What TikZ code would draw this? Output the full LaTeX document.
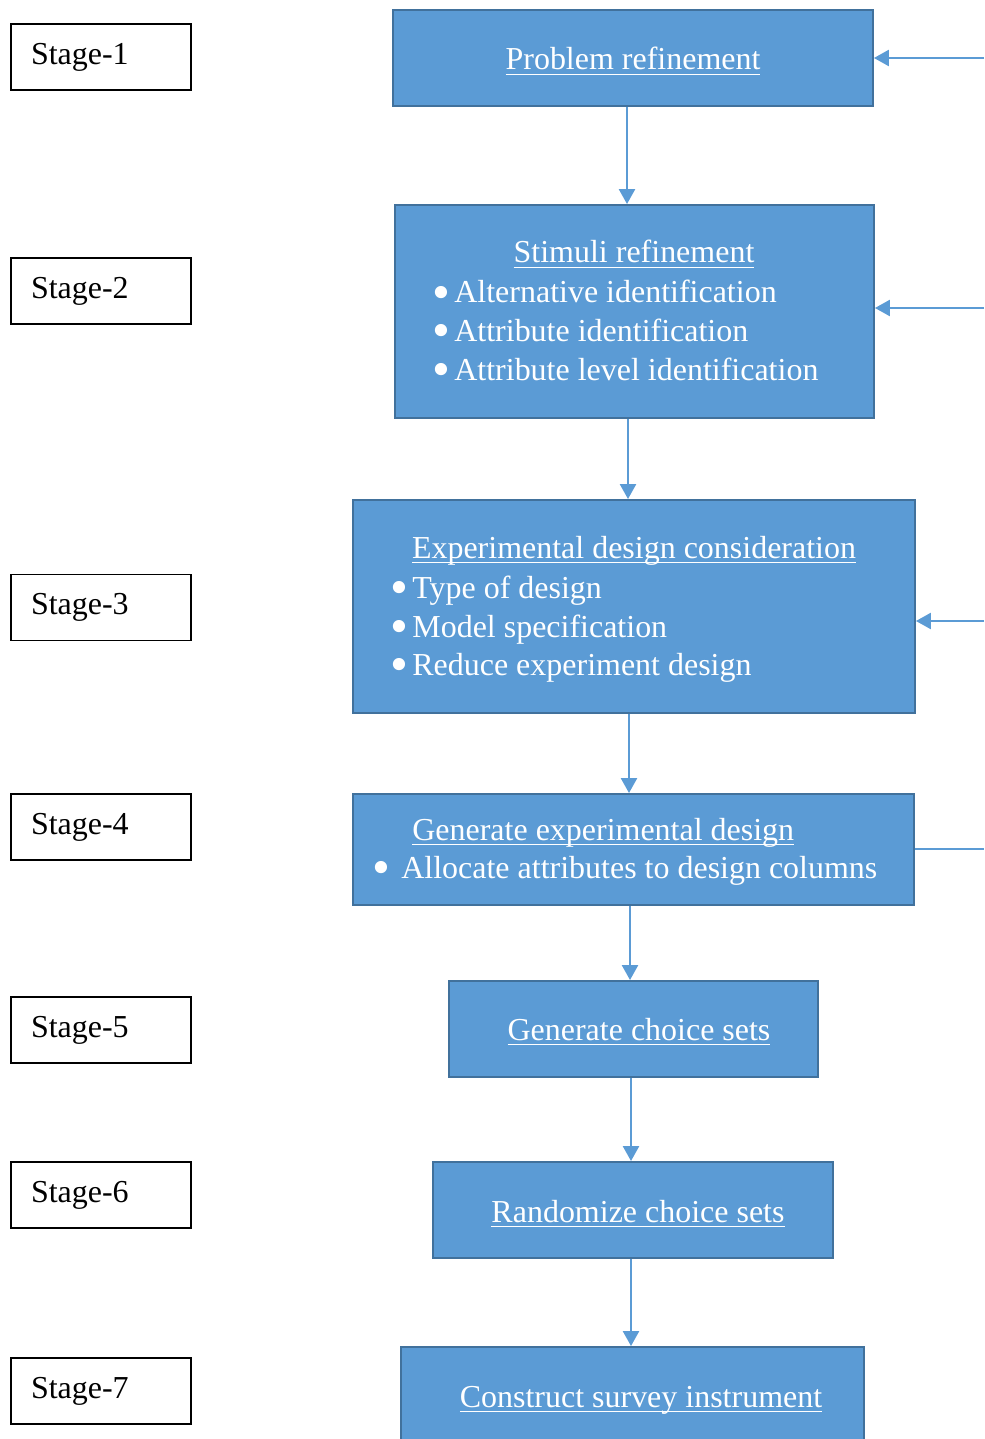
\documentclass[tikz,border=0pt]{standalone}
\usepackage{fontspec}
\setmainfont{Liberation Serif}
\usetikzlibrary{arrows.meta}
\definecolor{boxfill}{HTML}{5B9BD5}
\definecolor{boxline}{HTML}{41719C}
% underline set just below the baseline
\newcommand{\ulined}[1]{\setbox0\hbox{#1}\rlap{\rule[-2.8pt]{\wd0}{0.8pt}}\box0}
% big round bullet with a fixed indent
\newcommand{\blt}[1]{\makebox[#1][l]{\smash{\raisebox{-0.19em}{\scalebox{1.6}{\textbullet}}}}}

\begin{document}
\begin{tikzpicture}
	[x=0.02cm,y=-0.02cm,every node/.style={font=\fontsize{18.2}{22}\selectfont},
	stagebox/.style={draw=black,line width=0.8pt,minimum width=3.6cm,minimum height=1.32cm,text width=2.8cm,inner xsep=0.4cm,align=left},
	block/.style={draw=boxline,fill=boxfill,line width=1.1pt},
	boxtext/.style={text=white,inner sep=0pt}]
	\tikzstyle{edges} = [draw=boxfill,line width=1.4pt,-{Triangle[length=0.3cm,width=0.32cm]}];
	\clip (0,0) rectangle (984,1439);
	
	% stage labels on the left
	\node[stagebox] (s1) at (101,57) {Stage-1};
	\node[stagebox] (s2) at (101,291) {Stage-2};
	\node[stagebox] (s3) at (101,607.5) {Stage-3};
	\node[stagebox] (s4) at (101,827) {Stage-4};
	\node[stagebox] (s5) at (101,1030) {Stage-5};
	\node[stagebox] (s6) at (101,1195) {Stage-6};
	\node[stagebox] (s7) at (101,1391) {Stage-7};
	
	% blue steps
	\node[block,minimum width=9.6cm,minimum height=1.92cm] (b1) at (633,58) {};
	\node[block,minimum width=9.58cm,minimum height=4.26cm] (b2) at (634.5,311.5) {};
	\node[block,minimum width=11.24cm,minimum height=4.26cm] (b3) at (634,606.5) {};
	\node[block,minimum width=11.22cm,minimum height=2.22cm] (b4) at (633.5,849.5) {};
	\node[block,minimum width=7.38cm,minimum height=1.92cm] (b5) at (633.5,1029) {};
	\node[block,minimum width=8cm,minimum height=1.92cm] (b6) at (633,1210) {};
	\node[block,minimum width=9.26cm,minimum height=2cm] (b7) at (632.5,1397) {};
	
	% texts in the steps
	\node[boxtext,anchor=base] (t1) at (633,70) {\ulined{Problem refinement}};
	
	\node[boxtext,anchor=base] (t2) at (634,263) {\ulined{Stimuli refinement}};
	\node[boxtext,anchor=base west] (t2a) at (432,303) {\blt{0.44cm}Alternative identification};
	\node[boxtext,anchor=base west] (t2b) at (432,341) {\blt{0.44cm}Attribute identification};
	\node[boxtext,anchor=base west] (t2c) at (432,380) {\blt{0.44cm}Attribute level identification};
	
	\node[boxtext,anchor=base] (t3) at (634,558) {\ulined{Experimental design consideration}};
	\node[boxtext,anchor=base west] (t3a) at (390,598) {\blt{0.44cm}Type of design};
	\node[boxtext,anchor=base west] (t3b) at (390,637) {\blt{0.44cm}Model specification};
	\node[boxtext,anchor=base west] (t3c) at (390,675) {\blt{0.44cm}Reduce experiment design};
	
	\node[boxtext,anchor=base west] (t4) at (412,840) {\ulined{Generate experimental design}};
	\node[boxtext,anchor=base west] (t4a) at (372,878) {\blt{0.58cm}Allocate attributes to design columns};
	
	\node[boxtext,anchor=base] (t5) at (639,1040) {\ulined{Generate choice sets}};
	\node[boxtext,anchor=base] (t6) at (638,1222) {\ulined{Randomize choice sets}};
	\node[boxtext,anchor=base] (t7) at (641,1407) {\ulined{Construct survey instrument}};
	
	% x of each down arrow
	\coordinate (a1) at (627,0);
	\coordinate (a2) at (628,0);
	\coordinate (a3) at (629,0);
	\coordinate (a4) at (630,0);
	\coordinate (a5) at (631,0);
	\coordinate (a6) at (631,0);
	
	% loose ends coming in from the right
	\coordinate (r1) at (984,58);
	\coordinate (r2) at (984,308);
	\coordinate (r3) at (984,621);
	\coordinate (r4) at (984,849);
	
	\draw[edges] (a1 |- b1.south) -- (a1 |- b2.north);
	\draw[edges] (a2 |- b2.south) -- (a2 |- b3.north);
	\draw[edges] (a3 |- b3.south) -- (a3 |- b4.north);
	\draw[edges] (a4 |- b4.south) -- (a4 |- b5.north);
	\draw[edges] (a5 |- b5.south) -- (a5 |- b6.north);
	\draw[edges] (a6 |- b6.south) -- (a6 |- b7.north);
	
	\draw[edges] (r1) -- (r1 -| b1.east);
	\draw[edges] (r2) -- (r2 -| b2.east);
	\draw[edges] (r3) -- (r3 -| b3.east);
	\draw[edges,-] (r4 -| b4.east) -- (r4);
\end{tikzpicture}
\end{document}
